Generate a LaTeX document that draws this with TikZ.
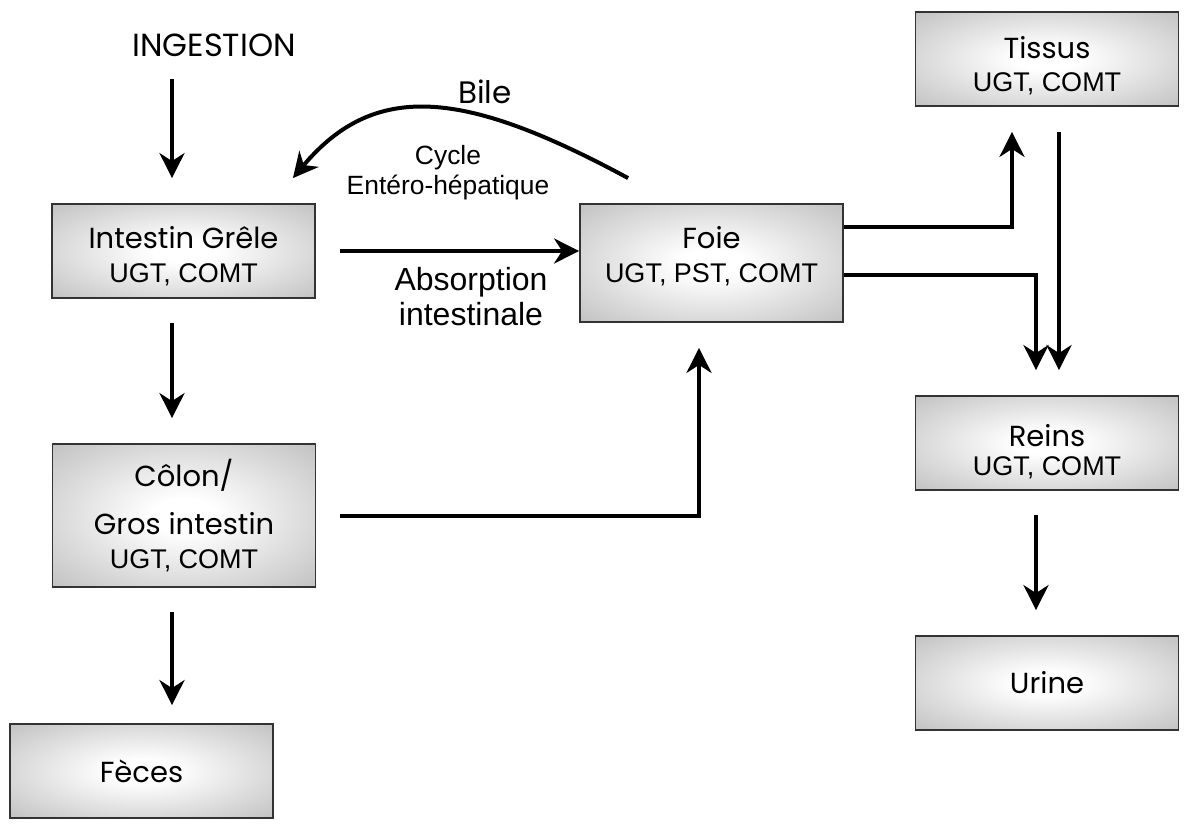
\documentclass[tikz,border=0pt]{standalone}
\usepackage{fontspec}
\setmainfont{Liberation Sans}
\newfontfamily\comicfont{Poppins}
\usetikzlibrary{arrows.meta}

\definecolor{boxgray}{gray}{0.74}
\definecolor{boxline}{gray}{0.2}
\pgfdeclareradialshading{boxglow}{\pgfpoint{0bp}{0bp}}{color(0bp)=(white); color(6bp)=(white); color(38bp)=(boxgray); color(80bp)=(boxgray)}
\newcommand{\organtitle}[1]{{\comicfont\fontsize{14.5}{17}\selectfont #1}}
% lower one line of a box by #1 without changing the box
\newcommand{\sink}[2]{\raisebox{-#1}[\height][\depth]{#2}}

\tikzset{
  organ/.style={draw=boxline, line width=0.9pt, shading=boxglow, minimum width=131.5pt, minimum height=47pt,
    align=center, inner sep=2pt, font=\fontsize{13.5}{17}\selectfont},
  flow/.style={line width=2pt, -{Stealth[length=12.5pt,width=12.5pt,inset=4pt]}},
}

\begin{document}
\begin{tikzpicture}[x=0.5pt,y=-0.5pt]
\useasboundingbox (0,0) rectangle (1184,831);
% boxes
\node[organ] (intestin) at (183.5,251) {\sink{2.5pt}{\organtitle{Intestin Grêle}}\\\sink{2.5pt}{UGT, COMT}};
\node[organ, minimum height=71.5pt] (colon) at (184,515.5) {\organtitle{Côlon/}\\[7pt]\organtitle{Gros intestin}\\UGT, COMT};
\node[organ] (feces) at (141.5,771) {\organtitle{Fèces}};
\node[organ, minimum height=59pt] (foie) at (711.5,263) {\sink{-3.5pt}{\organtitle{Foie}}\\\sink{-3.5pt}{UGT, PST, COMT}};
\node[organ] (tissus) at (1047,59) {\sink{3.5pt}{\organtitle{Tissus}}\\\sink{3pt}{UGT, COMT}};
\node[organ] (reins) at (1047,443) {\sink{5.5pt}{\organtitle{Reins}}\\\sink{3pt}{UGT, COMT}};
\node[organ] (urine) at (1047,683) {\organtitle{Urine}};
% labels
\node[font=\comicfont\fontsize{16}{18}\selectfont] (ingestion) at (214,45) {INGESTION};
\node[font=\comicfont\fontsize{15.5}{17}\selectfont] (bile) at (485,92) {Bile};
\node[align=center, font=\fontsize{13.2}{15}\selectfont] (cycle) at (448,173) {Cycle\\Entéro-hépatique};
\node[align=center, font=\fontsize{16}{17.5}\selectfont] (absorption) at (471,297) {Absorption\\intestinale};
% columns of the vertical arrows
\coordinate (gut) at (172,0);
\coordinate (portal) at (699,0);
\coordinate (up) at (1012,0);
\coordinate (down) at (1036,0);
\coordinate (back) at (1059,0);
% connectors
\draw[flow, shorten <=8pt, shorten >=12.5pt] (ingestion.south -| gut) -- (intestin.north -| gut);
\draw[flow, shorten <=12pt, shorten >=12.5pt] (intestin.south -| gut) -- (colon.north -| gut);
\draw[flow, shorten <=12pt, shorten >=9pt] (colon.south -| gut) -- (feces.north -| gut);
\draw[flow, shorten <=12pt] (intestin.east) -- (intestin.east -| foie.west);
\draw[flow, shorten <=12pt, shorten >=12.5pt] (colon.east) -| (portal |- foie.south);
\draw[flow] ([xshift=24.5pt,yshift=12.5pt]foie.north west) .. controls (465,90) and (375,80) .. ([xshift=-11.5pt,yshift=12.5pt]intestin.north east);
\draw[flow, shorten >=12.5pt] ([yshift=18pt]foie.east) -| (up |- tissus.south);
\draw[flow, shorten >=12.5pt] ([yshift=-6pt]foie.east) -| (down |- reins.north);
\draw[flow, shorten <=12.5pt, shorten >=12.5pt] (tissus.south -| back) -- (reins.north -| back);
\draw[flow, shorten <=12pt, shorten >=12.5pt] (reins.south -| down) -- (urine.north -| down);
\end{tikzpicture}
\end{document}
